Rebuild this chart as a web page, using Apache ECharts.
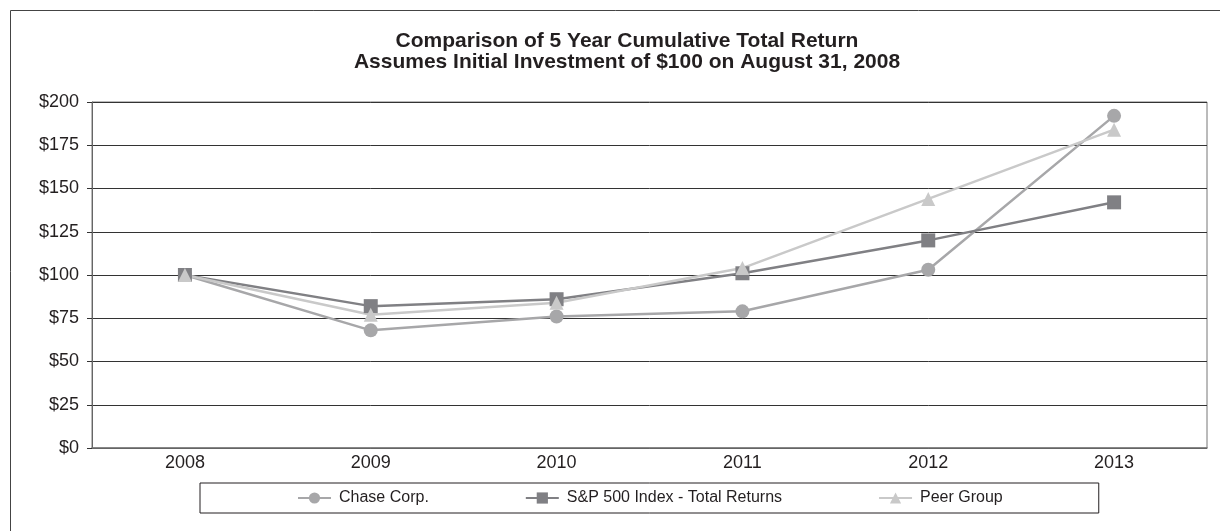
<!DOCTYPE html>
<html>
<head>
<meta charset="utf-8">
<title>Comparison of 5 Year Cumulative Total Return</title>
<script src="https://cdn.jsdelivr.net/npm/echarts@6/dist/echarts.min.js"></script>
<style>
  html, body { margin: 0; padding: 0; background: #fff; }
  #chart { width: 1220px; height: 531px; }
</style>
</head>
<body>
<div id="chart"></div>
<script>
// years along the x axis
const YEARS = ['2008', '2009', '2010', '2011', '2012', '2013']

// cumulative value of $100 invested
const CHASE = [100, 68, 76, 79, 103, 192]
const SP500 = [100, 82, 86, 101, 120, 142]
const PEER = [100, 77, 84, 104, 144, 184]

const SERIES_NAMES = ['Chase Corp.', 'S&P 500 Index - Total Returns', 'Peer Group']

const FONT = '"Liberation Sans", Arial, sans-serif'
const TEXT_COLOR = '#231f20'

const makeLine = (name, data, color, symbol, size) => ({
  name,
  type: 'line',
  data,
  symbol,
  symbolSize: size,
  showSymbol: true,
  lineStyle: { color, width: 2.5 },
  itemStyle: { color },
  emphasis: { disabled: true }
})

const chart = echarts.init(document.getElementById('chart'))

chart.setOption({
  animation: false,
  backgroundColor: '#fff',
  title: {
    text: 'Comparison of 5 Year Cumulative Total Return\nAssumes Initial Investment of $100 on August 31, 2008',
    left: 627,
    textAlign: 'center',
    top: 31,
    padding: 0,
    textStyle: {
      fontFamily: FONT,
      fontSize: 21,
      fontWeight: 'bold',
      color: TEXT_COLOR,
      lineHeight: 21
    }
  },
  // outer frame, its right and bottom edges run past the picture
  graphic: [{
    type: 'rect',
    shape: { x: 10.5, y: 10.5, width: 1240, height: 560 },
    style: { fill: 'none', stroke: '#444', lineWidth: 1 },
    silent: true
  }],
  legend: {
    data: SERIES_NAMES,
    left: 200,
    top: 483,
    padding: [7, 96, 7, 97],
    itemGap: 96,
    itemWidth: 33,
    itemHeight: 14,
    borderColor: '#231f20',
    borderWidth: 1,
    textStyle: {
      fontFamily: FONT,
      fontSize: 16,
      color: TEXT_COLOR,
      padding: [0, 0, 0, 3]
    }
  },
  grid: {
    left: 92,
    right: 13,
    top: 102,
    bottom: 83,
    show: true,
    borderColor: '#777',
    borderWidth: 1
  },
  xAxis: {
    type: 'category',
    data: YEARS,
    boundaryGap: true,
    axisLine: { lineStyle: { color: '#777', width: 1.5 } },
    axisTick: { alignWithLabel: true, length: 5, lineStyle: { color: '#333' } },
    axisLabel: { margin: 6, fontFamily: FONT, fontSize: 18, color: TEXT_COLOR },
    splitLine: { show: false }
  },
  yAxis: {
    type: 'value',
    min: 0,
    max: 200,
    interval: 25,
    axisLine: { show: true, lineStyle: { color: '#666', width: 1 } },
    axisTick: { show: true, length: 5, lineStyle: { color: '#333' } },
    axisLabel: {
      margin: 13,
      fontFamily: FONT,
      fontSize: 18,
      color: TEXT_COLOR,
      formatter: v => '$' + v
    },
    splitLine: { lineStyle: { color: '#333', width: 1 } }
  },
  series: [
    makeLine(SERIES_NAMES[0], CHASE, '#a7a7a9', 'circle', 14),
    makeLine(SERIES_NAMES[1], SP500, '#808084', 'rect', 14),
    makeLine(SERIES_NAMES[2], PEER, '#c9c9c9', 'triangle', 14)
  ]
})
</script>
</body>
</html>
